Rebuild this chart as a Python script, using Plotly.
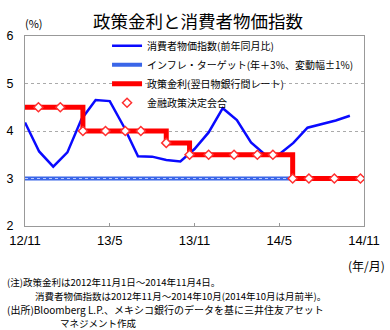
import plotly.graph_objects as go

# months since 2012/11
cpi_month = list(range(24))
cpi_values = [4.18, 3.57, 3.25, 3.55, 4.25, 4.65, 4.63, 4.09, 3.47, 3.46, 3.39, 3.36,
              3.62, 3.97, 4.48, 4.23, 3.76, 3.50, 3.51, 3.75, 4.07, 4.15, 4.22, 4.32]

target_month = [0, 24]
target_values = [3.0, 3.0]

rate_month = [0, 4.1, 10.0, 11.65, 18.95, 24]
rate_values = [4.5, 4.0, 3.75, 3.5, 3.0, 3.0]

meeting_month = [0.95, 2.5, 4.1, 5.7, 7.1, 8.2, 10.0, 11.65, 13.0, 14.8, 16.45, 17.55,
                 18.95, 20.1, 21.9, 23.75]
meeting_values = [4.5, 4.5, 4.0, 4.0, 4.0, 4.0, 3.75, 3.5, 3.5, 3.5, 3.5, 3.5,
                  3.0, 3.0, 3.0, 3.0]

tick_vals = [0, 6, 12, 18, 24]
tick_text = ["12/11", "13/5", "13/11", "14/5", "14/11"]

FONT = "Liberation Sans, Noto Sans CJK JP"
JP = "Noto Sans CJK JP"

fig = go.Figure()
fig.add_trace(go.Scatter(x=cpi_month, y=cpi_values, mode="lines",
                         line=dict(color="#0a0aff", width=2.5),
                         name="消費者物価指数(前年同月比)"))
fig.add_trace(go.Scatter(x=target_month, y=target_values, mode="lines",
                         line=dict(color="#3a66e8", width=4),
                         name="インフレ・ターゲット(年＋3%、変動幅±1%)"))
fig.add_trace(go.Scatter(x=target_month, y=target_values, mode="lines",
                         line=dict(color="#b8c8ff", width=1, dash="dot"),
                         showlegend=False, hoverinfo="skip"))
fig.add_trace(go.Scatter(x=rate_month, y=rate_values, mode="lines",
                         line=dict(color="#ff0000", width=5, shape="hv"),
                         name="政策金利(翌日物銀行間レート)"))
fig.add_trace(go.Scatter(x=meeting_month, y=meeting_values, mode="markers",
                         marker=dict(symbol="diamond", size=7, color="white",
                                     line=dict(color="#ff3030", width=1.5)),
                         name="金融政策決定会合"))

fig.update_layout(
    width=390, height=330,
    margin=dict(l=25, r=26, t=36, b=104),
    paper_bgcolor="white", plot_bgcolor="white",
    font=dict(family=FONT, size=13, color="black"),
    showlegend=True,
    legend=dict(x=0.242, y=1.025, xanchor="left", yanchor="top",
                bgcolor="rgba(255,255,255,0)", borderwidth=0,
                font=dict(family=JP, size=10, color="black"),
                itemwidth=30, tracegroupgap=0),
    title=dict(text="政策金利と消費者物価指数", x=0.508, xanchor="center",
               y=0.934, yanchor="middle",
               font=dict(family=JP, size=17.5, color="black")),
)

fig.update_xaxes(range=[0, 24], tickvals=tick_vals, ticktext=tick_text,
                 showline=True, mirror=True, linecolor="#999999", linewidth=1,
                 ticks="inside", ticklen=3, tickcolor="#999999",
                 showgrid=False, zeroline=False, automargin=False,
                 ticklabelstandoff=2,
                 tickfont=dict(family=FONT, size=13))
fig.update_yaxes(range=[2, 6], tickvals=[2, 3, 4, 5, 6],
                 showline=True, mirror=True, linecolor="#999999", linewidth=1,
                 ticks="", showgrid=True, gridcolor="#aaaaaa", griddash="dot",
                 gridwidth=1, zeroline=False, ticklabelstandoff=8, automargin=False,
                 tickfont=dict(family=FONT, size=12.5))

annotations = [
    dict(text="(%)", x=34, y=23, size=11, anchor="center"),
    dict(text="(年/月)", x=366, y=265, size=12, anchor="center"),
    dict(text="(注)政策金利は2012年11月1日～2014年11月4日。", x=5, y=282, size=9.5, anchor="left"),
    dict(text="消費者物価指数は2012年11月～2014年10月(2014年10月は月前半)。", x=33, y=296, size=9.5, anchor="left"),
    dict(text="(出所)Bloomberg L.P.、メキシコ銀行のデータを基に三井住友アセット", x=5, y=309, size=10, anchor="left"),
    dict(text="マネジメント作成", x=58, y=323, size=9.5, anchor="left"),
]
for a in annotations:
    fig.add_annotation(text=a["text"], xref="paper", yref="paper",
                       x=(a["x"] - 25) / 339, y=1 - (a["y"] - 36) / 190,
                       xanchor=a["anchor"], yanchor="middle", showarrow=False,
                       font=dict(family=JP, size=a["size"], color="black"))

fig.write_html("out.html")
